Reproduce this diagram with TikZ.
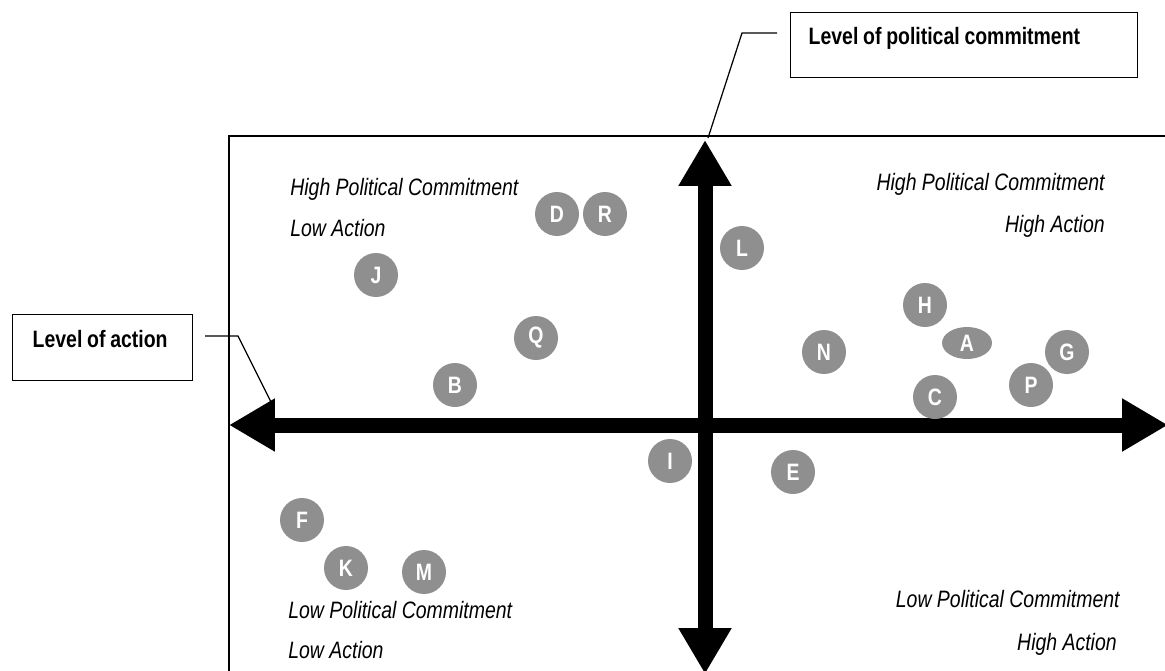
\documentclass[tikz,border=0pt]{standalone}
\usepackage{fontspec}
\setmainfont[FakeStretch=0.82]{Liberation Sans}
\usetikzlibrary{arrows.meta,shapes.geometric}
\definecolor{dotgray}{RGB}{143,143,143}
\tikzset{
  quadtext/.style={font=\fontsize{13.5}{16}\selectfont\itshape, inner sep=0pt},
  callbox/.style={draw, line width=0.8pt, inner ysep=0pt, align=left,
    font=\fontsize{13.5}{16}\selectfont\bfseries,
    execute at begin node={\spaceskip=0.2em\relax}},
  dot/.style={circle, fill=dotgray, text=white, minimum size=0.88cm, inner sep=0pt,
    font=\fontsize{13.5}{15}\selectfont\bfseries},
  axis/.style={line width=0.3cm, {Triangle[length=0.92cm,width=1cm]}-{Triangle[length=0.92cm,width=1cm]}},
  leader/.style={line width=0.7pt}
}
\begin{document}
\begin{tikzpicture}[x=0.02cm, y=-0.02cm]
    \useasboundingbox (0,0) rectangle (1165,670);

    % frame of the chart
    \draw[line width=0.8pt] (229,680) -- (229,136) -- (1175,136);

    % the two axes
    \coordinate (hl) at (229,425);
    \coordinate (hr) at (1168,425);
    \coordinate (vt) at (705,140);
    \coordinate (vb) at (705,674);
    \draw[axis] (hl) -- (hr);
    \draw[axis] (vb) -- (vt);

    % quadrant labels
    \node[quadtext, anchor=base west] (tl1) at (290,195) {High Political Commitment};
    \node[quadtext, anchor=base west] (tl2) at (290,236) {Low Action};
    \node[quadtext, anchor=base east] (tr1) at (1105,190) {High Political Commitment};
    \node[quadtext, anchor=base east] (tr2) at (1105,232) {High Action};
    \node[quadtext, anchor=base west] (bl1) at (288,618) {Low Political Commitment};
    \node[quadtext, anchor=base west] (bl2) at (288,658) {Low Action};
    \node[quadtext, anchor=base east] (br1) at (1120,607) {Low Political Commitment};
    \node[quadtext, anchor=base east] (br2) at (1117,650) {High Action};

    % callouts
    \node[callbox, anchor=north west, inner xsep=0.36cm, text width=6.22cm,
          text height=0.64cm, text depth=0.66cm] (polbox) at (790,12)
          {Level of political commitment};
    \node[callbox, anchor=north west, inner xsep=0.4cm, text width=2.8cm,
          text height=0.66cm, text depth=0.66cm] (actbox) at (12,314)
          {\mbox{Level of action}};

    \coordinate (polfoot) at (777,33);
    \coordinate (polbend) at (742,33);
    \coordinate (polend) at (708,138);
    \draw[leader] (polfoot) -- (polbend) -- (polend);

    \coordinate (actfoot) at (205,336);
    \coordinate (actbend) at (238,336);
    \coordinate (actend) at (271,402);
    \draw[leader] (actfoot) -- (actbend) -- (actend);

    % countries
    \node[dot] (D) at (557,214) {D};
    \node[dot] (R) at (605,214) {R};
    \node[dot] (L) at (742,248) {L};
    \node[dot] (J) at (376,275) {J};
    \node[dot] (Q) at (536,338) {Q};
    \node[dot] (B) at (455,385) {B};
    \node[dot] (H) at (925,305) {H};
    \node[dot, ellipse, minimum width=1cm, minimum height=0.64cm] (A) at (967,343) {A};
    \node[dot] (G) at (1067,352) {G};
    \node[dot] (P) at (1031,385) {P};
    \node[dot] (C) at (935,397) {C};
    \node[dot] (N) at (824,352) {N};
    \node[dot] (I) at (670,461) {I};
    \node[dot] (E) at (793,472) {E};
    \node[dot] (F) at (302,520) {F};
    \node[dot] (K) at (346,568) {K};
    \node[dot] (M) at (424,572) {M};
\end{tikzpicture}
\end{document}
